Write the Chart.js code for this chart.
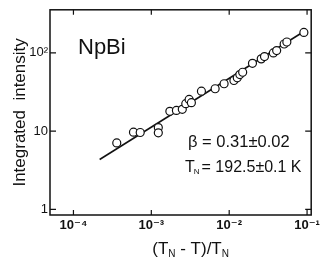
<!DOCTYPE html>
<html>
<head>
<meta charset="utf-8">
<script src="https://cdn.jsdelivr.net/npm/chart.js@4"></script>
<style>
  html, body { margin: 0; padding: 0; background: #fff; }
  #wrap { width: 323px; height: 263px; }
</style>
</head>
<body>
<div id="wrap"><canvas id="npbiChart"></canvas></div>
<script>
// reduced temperature (TN - T)/TN and integrated intensity
const reducedT = [3.6e-4, 5.9e-4, 7.2e-4, 1.23e-3, 1.23e-3, 1.73e-3, 2.1e-3, 2.5e-3, 2.77e-3, 3.06e-3, 3.27e-3, 4.4e-3, 6.6e-3,
  8.6e-3, 1.15e-2, 1.27e-2, 1.37e-2, 1.49e-2, 1.99e-2, 2.58e-2, 2.84e-2, 3.69e-2, 4.07e-2, 5.08e-2, 5.5e-2, 9.1e-2];
const intensity = [7.05, 9.7, 9.6, 11.1, 9.5, 17.9, 18.4, 19.0, 22.4, 25.4, 23.1, 32.4, 34.8,
  40.3, 44.4, 48.0, 52.9, 56.6, 73.7, 83.9, 89.7, 100, 107, 130, 138, 183];

// fitted power law line (end points)
const fitT = [2.17e-4, 0.088];
const fitI = [4.33, 184];

const xTickValues = [1e-4, 1e-3, 1e-2, 1e-1];
const xTickLabels = ['10\u207B\u2074', '10\u207B\u00B3', '10\u207B\u00B2', '10\u207B\u00B9'];
const yTickValues = [1, 10, 100];
const yTickLabels = ['1', '10', '10\u00B2'];

const FONT = "'Liberation Sans', 'DejaVu Sans', Arial, sans-serif";

// frame + inward tick marks on all four sides, plus the text annotations
const framePlugin = {
  id: 'frame',
  afterDraw(chart) {
    const { ctx, chartArea: a, scales } = chart;
    ctx.save();
    ctx.strokeStyle = '#111';
    ctx.lineWidth = 1.5;
    ctx.strokeRect(a.left, a.top, a.right - a.left, a.bottom - a.top);
    ctx.lineWidth = 1.2;
    ctx.beginPath();
    xTickValues.forEach(v => {
      const px = scales.x.getPixelForValue(v);
      ctx.moveTo(px, a.bottom); ctx.lineTo(px, a.bottom - 5);
      ctx.moveTo(px, a.top); ctx.lineTo(px, a.top + 5);
    });
    yTickValues.forEach(v => {
      const py = scales.y.getPixelForValue(v);
      ctx.moveTo(a.left, py); ctx.lineTo(a.left + 6, py);
      ctx.moveTo(a.right, py); ctx.lineTo(a.right - 6, py);
    });
    ctx.stroke();

    ctx.fillStyle = '#111';
    ctx.textBaseline = 'alphabetic';
    ctx.textAlign = 'left';

    ctx.font = '22px ' + FONT;
    ctx.fillText('NpBi', 78, 54);

    ctx.font = '16.5px ' + FONT;
    ctx.fillText('\u03B2 = 0.31\u00B10.02', 188, 147);

    // T_N line
    let x = 185;
    ctx.font = '16px ' + FONT;
    ctx.fillText('T', x, 172); x += ctx.measureText('T').width - 1;
    ctx.font = '8px ' + FONT;
    ctx.fillText('N', x, 174); x += ctx.measureText('N').width + 2;
    ctx.font = '16px ' + FONT;
    ctx.fillText('= 192.5\u00B10.1 K', x, 172);

    // x axis title with subscripts
    const parts = [['(T', 0], ['N', 1], [' - T)/T', 0], ['N', 1]];
    const widthOf = (p) => { ctx.font = (p[1] ? '10px ' : '17px ') + FONT; return ctx.measureText(p[0]).width; };
    const total = parts.reduce((s, p) => s + widthOf(p), 0);
    x = (a.left + a.right) / 2 + 10 - total / 2;
    parts.forEach(p => {
      ctx.font = (p[1] ? '10px ' : '17px ') + FONT;
      ctx.fillText(p[0], x, p[1] ? 257 : 254);
      x += ctx.measureText(p[0]).width;
    });
    ctx.restore();
  }
};

new Chart(document.getElementById('npbiChart').getContext('2d'), {
  type: 'scatter',
  data: {
    datasets: [
      {
        label: 'fit',
        type: 'line',
        data: fitT.map((t, i) => ({ x: t, y: fitI[i] })),
        borderColor: '#111',
        borderWidth: 1.6,
        pointRadius: 0,
        fill: false,
        order: 2
      },
      {
        label: 'NpBi',
        data: reducedT.map((t, i) => ({ x: t, y: intensity[i] })),
        pointStyle: 'circle',
        pointRadius: 4,
        pointBackgroundColor: '#fff',
        pointBorderColor: '#111',
        pointBorderWidth: 1.2,
        order: 1
      }
    ]
  },
  plugins: [framePlugin],
  options: {
    responsive: true,
    maintainAspectRatio: false,
    animation: false,
    layout: { padding: { left: 0, right: 7, top: 9, bottom: 0 } },
    plugins: {
      legend: { display: false },
      tooltip: { enabled: false }
    },
    scales: {
      x: {
        type: 'logarithmic',
        min: 5e-5,
        max: 0.113,
        afterBuildTicks: (scale) => { scale.ticks = xTickValues.map(v => ({ value: v })); },
        afterFit: (scale) => { scale.height = 48; },
        grid: { display: false, drawTicks: false },
        border: { display: false },
        ticks: {
          autoSkip: false,
          maxRotation: 0,
          padding: 3,
          color: '#111',
          font: { family: FONT, size: 13, weight: 'bold' },
          callback: (v, i) => xTickLabels[i]
        }
      },
      y: {
        type: 'logarithmic',
        min: 0.845,
        max: 356,
        afterBuildTicks: (scale) => { scale.ticks = yTickValues.map(v => ({ value: v })); },
        afterFit: (scale) => { scale.width = 50; },
        grid: { display: false, drawTicks: false },
        border: { display: false },
        ticks: {
          autoSkip: false,
          padding: 2,
          color: '#111',
          font: { family: FONT, size: 13 },
          callback: (v, i) => yTickLabels[i]
        },
        title: {
          display: true,
          text: 'Integrated  intensity',
          color: '#111',
          font: { family: FONT, size: 17 },
          padding: { top: 10, bottom: 0 }
        }
      }
    }
  }
});
</script>
</body>
</html>
